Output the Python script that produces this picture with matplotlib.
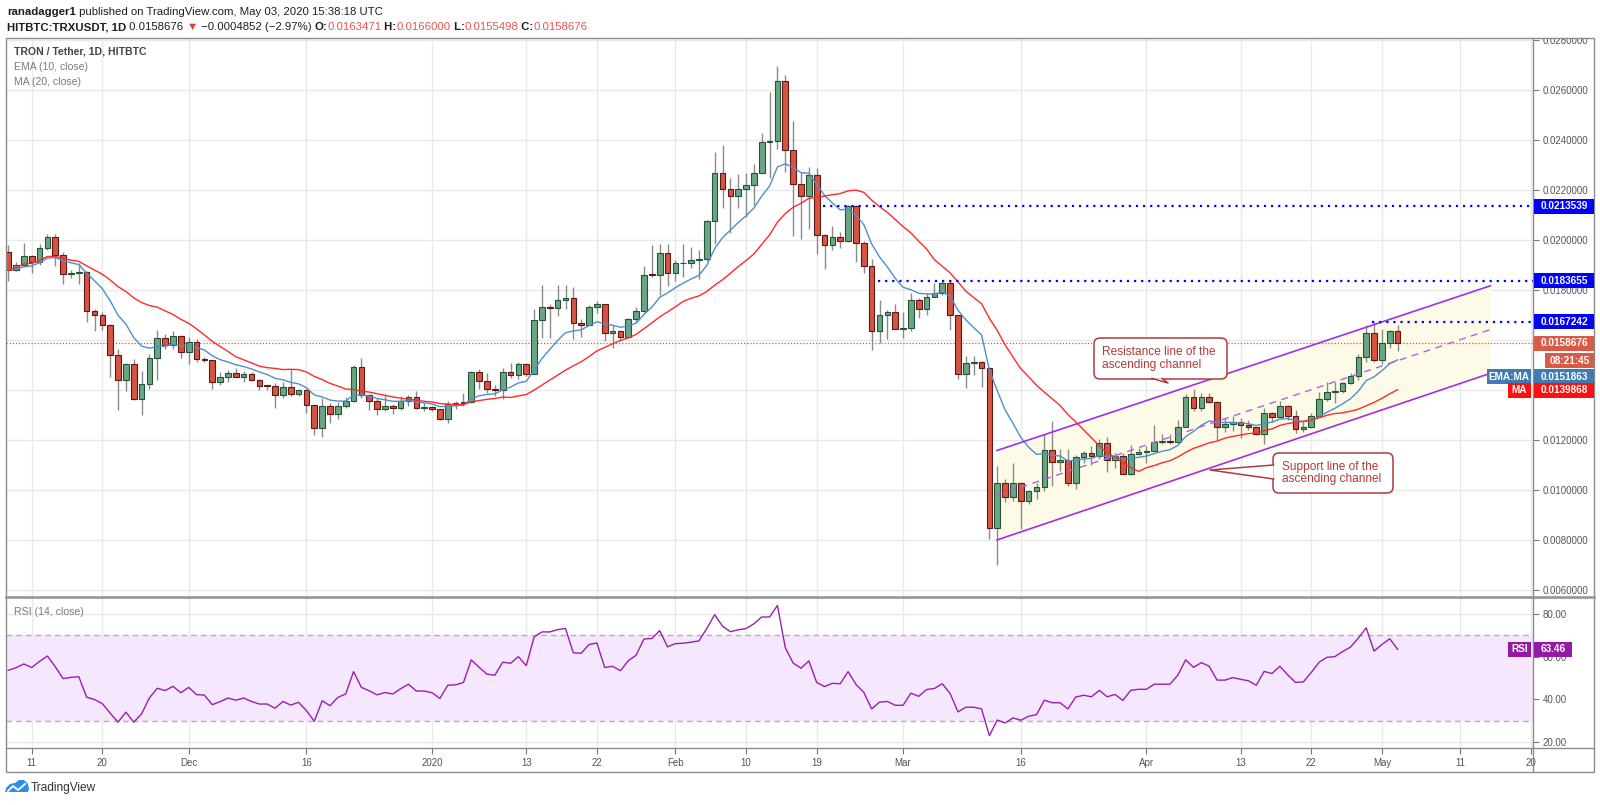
import numpy as np
import pandas as pd
import matplotlib
matplotlib.use("Agg")
import matplotlib.pyplot as plt
import matplotlib.transforms as mtransforms
from matplotlib.patches import Rectangle, FancyBboxPatch, Polygon
from matplotlib.lines import Line2D

plt.rcParams['font.family'] = ['Liberation Sans', 'DejaVu Sans']

# ---------------------------------------------------------------------------
# data (TRX/USDT daily, HitBTC)
# ---------------------------------------------------------------------------
first_day = "2019-11-08"

opens = [
    # Nov 8 - Nov 30
    0.01951, 0.01880, 0.01898, 0.01936, 0.01912, 0.01967, 0.02011, 0.01939, 0.01863, 0.01868,
    0.01872, 0.01714, 0.01699, 0.01661, 0.01540, 0.01439, 0.01505, 0.01364, 0.01423, 0.01529,
    0.01608, 0.01579, 0.01614,
    # Dec
    0.01550, 0.01593, 0.01523, 0.01520, 0.01431, 0.01453, 0.01469, 0.01451, 0.01463, 0.01440,
    0.01417, 0.01416, 0.01380, 0.01413, 0.01383, 0.01399, 0.01340, 0.01249, 0.01337, 0.01303,
    0.01337, 0.01356, 0.01491, 0.01380, 0.01356, 0.01324, 0.01337, 0.01327, 0.01355, 0.01372,
    0.01327,
    # Jan
    0.01332, 0.01323, 0.01285, 0.01343, 0.01347, 0.01353, 0.01472, 0.01436, 0.01403, 0.01399,
    0.01470, 0.01461, 0.01504, 0.01465, 0.01680, 0.01733, 0.01729, 0.01759, 0.01769, 0.01667,
    0.01661, 0.01733, 0.01743, 0.01627, 0.01635, 0.01613, 0.01683, 0.01714, 0.01861, 0.01860,
    0.01949,
    # Feb
    0.01866, 0.01906, 0.01908, 0.01919, 0.01925, 0.02077, 0.02268, 0.02205, 0.02176, 0.02205,
    0.02218, 0.02268, 0.02393, 0.02395, 0.02637, 0.02361, 0.02222, 0.02177, 0.02258, 0.02020,
    0.01980, 0.02013, 0.01997, 0.02136, 0.01988, 0.01894, 0.01637, 0.01698, 0.01711,
    # Mar
    0.01645, 0.01647, 0.01758, 0.01722, 0.01773, 0.01786, 0.01828, 0.01698, 0.01464, 0.01508,
    0.01511, 0.01489, 0.00847, 0.01027, 0.00973, 0.01027, 0.00956, 0.00995, 0.01013, 0.01159,
    0.01113, 0.01120, 0.01027, 0.01133, 0.01147, 0.01136, 0.01189, 0.01119, 0.01136, 0.01065,
    0.01145,
    # Apr
    0.01153, 0.01156, 0.01193, 0.01194, 0.01192, 0.01253, 0.01373, 0.01327, 0.01371, 0.01351,
    0.01253, 0.01262, 0.01271, 0.01260, 0.01251, 0.01224, 0.01307, 0.01293, 0.01337, 0.01297,
    0.01244, 0.01251, 0.01297, 0.01363, 0.01393, 0.01395, 0.01427, 0.01456, 0.01533, 0.01627,
    # May 1 - May 3
    0.01520, 0.01587, 0.0163471,
]

highs = [
    0.01979, 0.01912, 0.01989, 0.01939, 0.01983, 0.02024, 0.02024, 0.01950, 0.01880, 0.01908,
    0.01876, 0.01724, 0.01710, 0.01663, 0.01562, 0.01508, 0.01522, 0.01477, 0.01545, 0.01639,
    0.01625, 0.01637, 0.01621,
    0.01611, 0.01604, 0.01531, 0.01520, 0.01471, 0.01480, 0.01489, 0.01476, 0.01473, 0.01444,
    0.01420, 0.01427, 0.01431, 0.01484, 0.01404, 0.01404, 0.01343, 0.01367, 0.01347, 0.01353,
    0.01373, 0.01500, 0.01529, 0.01383, 0.01367, 0.01383, 0.01343, 0.01376, 0.01380, 0.01396,
    0.01347,
    0.01336, 0.01323, 0.01356, 0.01356, 0.01389, 0.01476, 0.01483, 0.01467, 0.01419, 0.01489,
    0.01509, 0.01513, 0.01509, 0.01723, 0.01819, 0.01743, 0.01819, 0.01819, 0.01812, 0.01683,
    0.01739, 0.01756, 0.01745, 0.01659, 0.01640, 0.01686, 0.01732, 0.01894, 0.01980, 0.01983,
    0.01983,
    0.01919, 0.01985, 0.01971, 0.01961, 0.02081, 0.02352, 0.02380, 0.02246, 0.02264, 0.02268,
    0.02305, 0.02426, 0.02591, 0.02695, 0.02659, 0.02475, 0.02270, 0.02292, 0.02289, 0.02024,
    0.02055, 0.02031, 0.02140, 0.02140, 0.01995, 0.01922, 0.01758, 0.01719, 0.01742,
    0.01711, 0.01786, 0.01766, 0.01789, 0.01828, 0.01836, 0.01839, 0.01698, 0.01536, 0.01536,
    0.01516, 0.01492, 0.01094, 0.01043, 0.01107, 0.01030, 0.00999, 0.01026, 0.01223, 0.01276,
    0.01163, 0.01163, 0.01139, 0.01156, 0.01176, 0.01203, 0.01212, 0.01147, 0.01149, 0.01180,
    0.01169,
    0.01176, 0.01259, 0.01223, 0.01223, 0.01279, 0.01385, 0.01405, 0.01387, 0.01387, 0.01355,
    0.01287, 0.01297, 0.01287, 0.01280, 0.01253, 0.01327, 0.01313, 0.01356, 0.01340, 0.01320,
    0.01277, 0.01307, 0.01393, 0.01433, 0.01431, 0.01431, 0.01467, 0.01543, 0.01660, 0.0167242,
    0.01644, 0.01640, 0.0166000,
]

lows = [
    0.01837, 0.01876, 0.01894, 0.01868, 0.01898, 0.01958, 0.01894, 0.01823, 0.01847, 0.01823,
    0.01670, 0.01635, 0.01638, 0.01451, 0.01321, 0.01395, 0.01361, 0.01300, 0.01402, 0.01439,
    0.01562, 0.01562, 0.01529,
    0.01502, 0.01512, 0.01512, 0.01404, 0.01420, 0.01433, 0.01450, 0.01433, 0.01436, 0.01400,
    0.01400, 0.01327, 0.01367, 0.01377, 0.01377, 0.01307, 0.01220, 0.01213, 0.01269, 0.01284,
    0.01327, 0.01351, 0.01367, 0.01320, 0.01300, 0.01316, 0.01303, 0.01320, 0.01336, 0.01323,
    0.01316,
    0.01316, 0.01280, 0.01269, 0.01325, 0.01336, 0.01349, 0.01405, 0.01387, 0.01376, 0.01363,
    0.01449, 0.01443, 0.01456, 0.01463, 0.01609, 0.01609, 0.01696, 0.01723, 0.01603, 0.01613,
    0.01659, 0.01709, 0.01594, 0.01567, 0.01594, 0.01607, 0.01672, 0.01710, 0.01851, 0.01778,
    0.01815,
    0.01837, 0.01851, 0.01888, 0.01842, 0.01916, 0.01985, 0.02127, 0.02026, 0.02127, 0.02090,
    0.02140, 0.02268, 0.02246, 0.02365, 0.02273, 0.02017, 0.02004, 0.02042, 0.01945, 0.01883,
    0.01961, 0.01969, 0.01992, 0.01911, 0.01867, 0.01558, 0.01586, 0.01605, 0.01644,
    0.01609, 0.01637, 0.01688, 0.01698, 0.01773, 0.01781, 0.01641, 0.01445, 0.01406, 0.01461,
    0.01411, 0.00805, 0.00700, 0.00952, 0.00956, 0.00845, 0.00943, 0.00963, 0.00997, 0.01016,
    0.01076, 0.01016, 0.01005, 0.01109, 0.01100, 0.01123, 0.01072, 0.01089, 0.01063, 0.01061,
    0.01139,
    0.01109, 0.01153, 0.01183, 0.01183, 0.01189, 0.01253, 0.01316, 0.01316, 0.01347, 0.01200,
    0.01233, 0.01236, 0.01207, 0.01240, 0.01220, 0.01184, 0.01273, 0.01287, 0.01280, 0.01227,
    0.01233, 0.01247, 0.01293, 0.01356, 0.01347, 0.01387, 0.01423, 0.01440, 0.01513, 0.01511,
    0.01503, 0.01567, 0.0155498,
]

closes = [
    0.01880, 0.01898, 0.01936, 0.01912, 0.01967, 0.02011, 0.01939, 0.01863, 0.01868, 0.01872,
    0.01714, 0.01699, 0.01661, 0.01540, 0.01439, 0.01505, 0.01364, 0.01423, 0.01529, 0.01608,
    0.01579, 0.01614, 0.01550,
    0.01593, 0.01523, 0.01520, 0.01431, 0.01453, 0.01469, 0.01451, 0.01463, 0.01440, 0.01417,
    0.01416, 0.01380, 0.01413, 0.01383, 0.01399, 0.01340, 0.01249, 0.01337, 0.01303, 0.01337,
    0.01356, 0.01491, 0.01380, 0.01356, 0.01324, 0.01337, 0.01327, 0.01355, 0.01372, 0.01327,
    0.01332,
    0.01323, 0.01285, 0.01343, 0.01347, 0.01353, 0.01472, 0.01436, 0.01403, 0.01399, 0.01470,
    0.01461, 0.01504, 0.01465, 0.01680, 0.01733, 0.01729, 0.01759, 0.01769, 0.01667, 0.01661,
    0.01733, 0.01743, 0.01627, 0.01635, 0.01613, 0.01683, 0.01714, 0.01861, 0.01860, 0.01949,
    0.01866,
    0.01906, 0.01908, 0.01919, 0.01925, 0.02077, 0.02268, 0.02205, 0.02176, 0.02205, 0.02218,
    0.02268, 0.02393, 0.02395, 0.02637, 0.02361, 0.02222, 0.02177, 0.02258, 0.02020, 0.01980,
    0.02013, 0.01997, 0.02136, 0.01988, 0.01894, 0.01637, 0.01698, 0.01711, 0.01645,
    0.01647, 0.01758, 0.01722, 0.01773, 0.01786, 0.01828, 0.01698, 0.01464, 0.01508, 0.01511,
    0.01489, 0.00847, 0.01027, 0.00973, 0.01027, 0.00956, 0.00995, 0.01013, 0.01159, 0.01113,
    0.01120, 0.01027, 0.01133, 0.01147, 0.01136, 0.01189, 0.01119, 0.01136, 0.01065, 0.01145,
    0.01153,
    0.01156, 0.01193, 0.01194, 0.01192, 0.01253, 0.01373, 0.01327, 0.01371, 0.01351, 0.01253,
    0.01262, 0.01271, 0.01260, 0.01251, 0.01224, 0.01307, 0.01293, 0.01337, 0.01297, 0.01244,
    0.01251, 0.01297, 0.01363, 0.01393, 0.01395, 0.01427, 0.01456, 0.01533, 0.01627, 0.01520,
    0.01587, 0.01635, 0.0158676,
]

rsi_values = [
    53.6, 54.8, 56.6, 54.9, 57.8, 60.3, 55.3, 49.7, 50.3, 50.6,
    41.0, 39.9, 38.0, 33.5, 29.3, 34.0, 29.3, 33.2, 40.7, 45.2,
    44.1, 46.1, 43.1,
    45.6, 42.2, 42.0, 37.5, 38.9, 40.6, 39.6, 40.6, 39.0, 37.8,
    37.8, 35.8, 39.0, 37.3, 38.6, 34.7, 29.7, 39.3, 37.0, 40.9,
    42.5, 53.0, 45.6, 44.0, 42.1, 43.2, 42.5, 45.0, 47.1, 43.9,
    43.9,
    43.1, 40.4, 46.6, 46.8, 47.9, 58.5, 55.0, 51.8, 51.3, 57.4,
    56.9, 60.0, 55.8, 69.2, 71.6, 71.6, 72.7, 73.2, 61.8, 61.6,
    65.7, 66.4, 54.9, 55.5, 53.4, 58.1, 60.7, 68.3, 68.5, 72.2,
    64.6,
    66.1, 66.3, 66.8, 67.4, 73.2, 79.7, 74.3, 71.7, 72.6, 73.2,
    75.4, 78.6, 78.6, 84.0, 64.2, 57.0, 54.6, 58.0, 47.9, 46.0,
    47.5, 47.3, 53.0, 47.0, 43.3, 35.5, 38.7, 39.0, 37.2,
    37.2, 42.9, 41.4, 44.6, 45.1, 47.3, 42.7, 34.1, 36.3, 36.3,
    35.5, 23.0, 30.3, 28.9, 31.3, 30.2, 32.1, 32.8, 39.6, 38.4,
    38.4, 35.5, 41.1, 41.9, 41.2, 44.2, 41.2, 42.3, 39.5, 44.2,
    44.7,
    44.7, 47.1, 47.1, 47.1, 51.3, 58.5, 55.0, 57.2, 55.5, 49.0,
    49.0, 50.2, 49.4, 48.7, 46.6, 53.1, 52.1, 55.5, 51.5, 47.9,
    48.2, 52.6, 57.4, 59.7, 60.0, 62.4, 64.5, 68.7, 73.5, 62.6,
    65.7, 68.4, 63.46,
]

tick_dates = ["2019-11-11", "2019-11-20", "2019-12-01", "2019-12-16", "2020-01-01",
              "2020-01-13", "2020-01-22", "2020-02-01", "2020-02-10", "2020-02-19",
              "2020-03-01", "2020-03-16", "2020-04-01", "2020-04-13", "2020-04-22",
              "2020-05-01", "2020-05-11", "2020-05-20"]
tick_labels = ["11", "20", "Dec", "16", "2020", "13", "22", "Feb", "10", "19",
               "Mar", "16", "Apr", "13", "22", "May", "11", "20"]

price_ticks = [0.006, 0.008, 0.010, 0.012, 0.014, 0.016, 0.018, 0.020, 0.022, 0.024, 0.026, 0.028]
rsi_ticks = [20, 40, 60, 80]

level_prices = [0.0213539, 0.0183655, 0.0167242]
level_starts = ["2020-02-19 19:00", "2020-02-26 19:00", "2020-04-29 19:00"]

channel_dates = ["2020-03-12 23:00", "2020-05-14 20:00"]
channel_upper = [0.01158, 0.01817]
channel_lower = [0.00800, 0.01467]

last_price = 0.0158676
ema_last = 0.0151863
ma_last = 0.0139868
rsi_last = 63.46

# ---------------------------------------------------------------------------
# helpers
# ---------------------------------------------------------------------------
W, H = 1600, 805
base_day = pd.Timestamp("2019-11-11")


def day_num(s):
    return (pd.Timestamp(s) - base_day).total_seconds() / 86400.0


dates = pd.date_range(first_day, periods=len(closes), freq="D")
x = np.array([(d - base_day).days for d in dates], dtype=float)
o = np.array(opens)
h = np.array(highs)
l = np.array(lows)
c = np.array(closes)

close_s = pd.Series(c)
ema10 = close_s.ewm(span=10, adjust=False).mean()
ma20 = close_s.rolling(20, min_periods=1).mean()

fig = plt.figure(figsize=(W / 100, H / 100), dpi=100)
fig.patch.set_facecolor("white")
px = mtransforms.Affine2D().scale(1.0 / W, -1.0 / H).translate(0, 1) + fig.transFigure


def fbox(x0, y0, x1, y1):
    return [x0 / W, 1 - y1 / H, (x1 - x0) / W, (y1 - y0) / H]


left, right, top, sep, bottom = 6, 1533, 38, 597, 748
ax = fig.add_axes(fbox(left, top, right, sep))
axr = fig.add_axes(fbox(left, sep, right, bottom), sharex=ax)

# px -> data mapping used for limits: 7.85 px per day, Nov 11 at x=31.7 ; 25 px per 0.001
xlim = ((left - 31.7) / 7.85, (right - 31.7) / 7.85)
ax.set_xlim(*xlim)
ax.set_ylim(0.028 - (sep - 40) / 25000.0, 0.028 - (top - 40) / 25000.0)
axr.set_ylim(20 - (bottom - 742) / 2.1333, 80 + (614 - sep) / 2.1333)

grid_c = "#e9e9e9"
tick_x = [day_num(t) for t in tick_dates]
for a in (ax, axr):
    a.set_facecolor("white")
    for s in a.spines.values():
        s.set_visible(False)
    for tx in tick_x:
        a.axvline(tx, color=grid_c, lw=1, zorder=0)

for p in price_ticks:
    ax.axhline(p, color=grid_c, lw=1, zorder=0)
for r in rsi_ticks:
    axr.axhline(r, color=grid_c, lw=1, zorder=0)

# ---------------------------------------------------------------------------
# ascending channel drawing
# ---------------------------------------------------------------------------
cx = [day_num(d) for d in channel_dates]
cmid = [(a + b) / 2 for a, b in zip(channel_upper, channel_lower)]
ax.fill_between(cx, channel_lower, channel_upper, color="#fdfbe7", zorder=1, lw=0)
ax.plot(cx, channel_upper, color="#a22cf2", lw=1.2, zorder=6)
ax.plot(cx, channel_lower, color="#a22cf2", lw=1.2, zorder=6)
ax.plot(cx, cmid, color="#b060e0", lw=1.0, ls=(0, (5, 4)), zorder=6)

# horizontal levels
for lp, ls_ in zip(level_prices, level_starts):
    ax.hlines(lp, day_num(ls_), xlim[1], color="#0000ff", lw=1.6,
              linestyles=(0, (1, 2.2)), zorder=6)
ax.axhline(last_price, color="#e0503c", lw=0.9, ls=(0, (1, 1.5)), zorder=2)

# ---------------------------------------------------------------------------
# candles
# ---------------------------------------------------------------------------
up = c >= o
body_lo = np.minimum(o, c)
body_h = np.maximum(np.abs(c - o), 0.00003)
ax.vlines(x, l, h, color="#8a8a8a", lw=1, zorder=3)
ax.bar(x[up], body_h[up], bottom=body_lo[up], width=0.72, color="#6ba583",
       edgecolor="#225437", lw=0.8, zorder=4)
ax.bar(x[~up], body_h[~up], bottom=body_lo[~up], width=0.72, color="#d75442",
       edgecolor="#5b1a13", lw=0.8, zorder=4)

ax.plot(x, ema10, color="#4f8fcb", lw=1.0, zorder=5)
ax.plot(x, ma20, color="#ff2a2a", lw=1.0, zorder=5)

# ---------------------------------------------------------------------------
# RSI pane
# ---------------------------------------------------------------------------
axr.axhspan(30, 70, color="#f4e7fe", zorder=0.5, lw=0)
axr.axhline(70, color="#b9a9c4", lw=1, ls=(0, (4, 3)), zorder=1)
axr.axhline(30, color="#b9a9c4", lw=1, ls=(0, (4, 3)), zorder=1)
axr.plot(x, rsi_values, color="#9a1fb0", lw=1.0, zorder=3)

# ticks / axis labels
tick_font = dict(labelsize=7, labelcolor="#555555", color="#777777",
                 length=4, width=0.8, direction="out")
ax.yaxis.tick_right()
ax.set_yticks(price_ticks)
ax.set_yticklabels([f"{p:.7f}" for p in price_ticks])
ax.tick_params(axis="y", pad=3, **tick_font)
ax.tick_params(axis="x", bottom=False, labelbottom=False)

axr.yaxis.tick_right()
axr.set_yticks(rsi_ticks)
axr.set_yticklabels([f"{r:.2f}" for r in rsi_ticks])
axr.tick_params(axis="y", pad=3, **tick_font)
axr.set_xticks(tick_x)
axr.set_xticklabels(tick_labels)
axr.tick_params(axis="x", pad=3, **tick_font)

# ---------------------------------------------------------------------------
# frame lines (figure pixel coordinates)
# ---------------------------------------------------------------------------
frame_c = "#8c8c8c"
fig.add_artist(Rectangle((left, top), 1594 - left, 772 - top, transform=px,
                         fill=False, ec=frame_c, lw=1, zorder=2))
fig.add_artist(Line2D([left, 1594], [sep, sep], transform=px, color="#9a9a9a", lw=2, zorder=2))
fig.add_artist(Line2D([left, 1594], [bottom, bottom], transform=px, color=frame_c, lw=1, zorder=2))
fig.add_artist(Line2D([right, right], [top, 772], transform=px, color=frame_c, lw=1, zorder=2))
# hide the half-cut top label like the original
fig.add_artist(Rectangle((right + 1, 28), 1600 - right, top - 28, transform=px,
                         fc="white", ec="none", zorder=1.5))


def axis_label(y_center, text, fc, x0=right + 1, x1=1594, hgt=15, tc="white"):
    fig.add_artist(Rectangle((x0, y_center - hgt / 2), x1 - x0, hgt, transform=px,
                             fc=fc, ec="none", zorder=3))
    fig.text((x0 + x1) / 2, y_center, text, transform=px, color=tc, fontsize=7.2,
             fontweight="bold", ha="center", va="center", zorder=4)


def price_y(p):
    return 40 + (0.028 - p) * 25000


for lp in level_prices:
    axis_label(price_y(lp), f"{lp:.7f}", "#0000ff")
axis_label(price_y(last_price), f"{last_price:.7f}", "#d95b47")
axis_label(361, "08:21:45", "#d95b47", x0=1545)
axis_label(377, f"{ema_last:.7f}", "#3f7bb0")
axis_label(377, "EMA:MA", "#3f7bb0", x0=1487, x1=1531)
axis_label(price_y(ma_last), f"{ma_last:.7f}", "#ff0f0f")
axis_label(price_y(ma_last), "MA", "#ff0f0f", x0=1508, x1=1531)
rsi_y = 614 + (80 - rsi_last) * 2.1333
axis_label(rsi_y, f"{rsi_last:.2f}", "#941aa6", x1=1572)
axis_label(rsi_y, "RSI", "#941aa6", x0=1508, x1=1531)

# ---------------------------------------------------------------------------
# callouts
# ---------------------------------------------------------------------------
call_c = "#b23a3a"


def callout(x0, y0, x1, y1, tail, text, tx):
    fig.add_artist(FancyBboxPatch((x0, y0), x1 - x0, y1 - y0, transform=px,
                                  boxstyle="round,pad=0,rounding_size=6",
                                  fc="white", ec=call_c, lw=1.1, zorder=3))
    fig.add_artist(Polygon(tail, closed=True, transform=px, fc="white", ec="none", zorder=3.1))
    fig.add_artist(Line2D([tail[0][0], tail[1][0], tail[2][0]],
                          [tail[0][1], tail[1][1], tail[2][1]],
                          transform=px, color=call_c, lw=1.1, zorder=3.2))
    fig.text(tx, (y0 + y1) / 2, text, transform=px, color=call_c, fontsize=8.6,
             ha="left", va="center", linespacing=1.05, zorder=4)


callout(1094, 338, 1227, 379, [(1152, 378.4), (1168, 383), (1162, 378.4)],
        "Resistance line of the\nascending channel", 1102)
callout(1273, 453, 1393, 493, [(1273.6, 465), (1210, 470), (1273.6, 479)],
        "Support line of the\nascending channel", 1282)

# ---------------------------------------------------------------------------
# texts
# ---------------------------------------------------------------------------
renderer = fig.canvas.get_renderer()


def write_run(x0, y0, pieces, size):
    xx = x0
    for txt, color, weight in pieces:
        t = fig.text(xx, y0, txt, transform=px, color=color, fontweight=weight,
                     fontsize=size, ha="left", va="center")
        xx += t.get_window_extent(renderer=renderer).width


dark = "#1e1e1e"
red = "#ef5350"
write_run(7, 12, [("ranadagger1", dark, "bold"),
                  (" published on TradingView.com, May 03, 2020 15:38:18 UTC", dark, "normal")], 8.2)
write_run(7, 27, [("HITBTC:TRXUSDT, 1D", dark, "bold"),
                  (" 0.0158676 ", dark, "normal"), ("\u25bc", "#e53935", "normal"),
                  (" \u22120.0004852 (\u22122.97%) ", dark, "normal"),
                  ("O:", dark, "bold"), ("0.0163471", red, "normal"),
                  (" H:", dark, "bold"), ("0.0166000", red, "normal"),
                  (" L:", dark, "bold"), ("0.0155498", red, "normal"),
                  (" C:", dark, "bold"), ("0.0158676", red, "normal")], 8.2)

fig.text(14, 52, "TRON / Tether, 1D, HITBTC", transform=px, color="#444444",
         fontsize=7.6, fontweight="bold", va="center")
fig.text(14, 67, "EMA (10, close)", transform=px, color="#7a7a7a", fontsize=7.6, va="center")
fig.text(14, 82, "MA (20, close)", transform=px, color="#7a7a7a", fontsize=7.6, va="center")
fig.text(14, 612, "RSI (14, close)", transform=px, color="#7a7a7a", fontsize=7.6, va="center")

# TradingView logo (below the frame)
fig.add_artist(Polygon([(5, 792), (6, 788), (10, 784), (15, 783), (19, 780), (24, 780),
                        (28, 784), (29, 789), (28, 792)], closed=True, transform=px,
                       fc="#2f8ee8", ec="none", zorder=3))
fig.add_artist(Line2D([8, 13, 18, 25], [791, 786, 790, 784], transform=px,
                      color="white", lw=1.3, zorder=4))
fig.text(31, 788, "TradingView", transform=px, color="#333333", fontsize=8.6, va="center")

fig.savefig("out.png", dpi=100, facecolor="white")
